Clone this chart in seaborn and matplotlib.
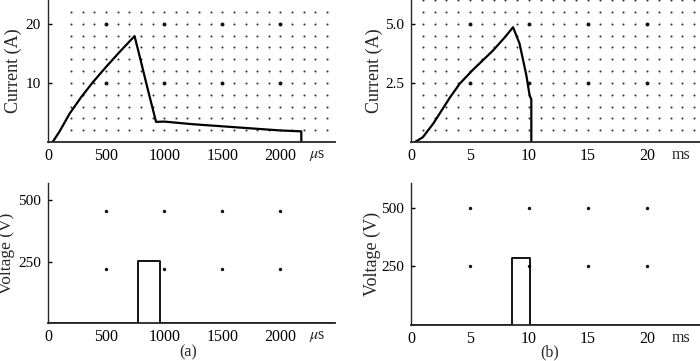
import numpy as np
import pandas as pd
import matplotlib
matplotlib.use("Agg")
import matplotlib.pyplot as plt
import seaborn as sns

# ---- data ----
ia_t = [40, 100, 186, 290, 386, 500, 620, 745, 800, 860, 930, 1000, 1250, 1500, 1750, 2000, 2180, 2180]
ia_v = [0.0, 1.8, 4.8, 7.7, 10.1, 12.7, 15.3, 17.9, 13.6, 8.8, 3.4, 3.45, 3.0, 2.65, 2.3, 1.95, 1.8, 0.0]

va_t = [0, 778, 778, 968, 968, 2470]
va_v = [0, 0, 252, 252, 0, 0]

ib_t = [0.34, 1.0, 1.89, 3.3, 4.14, 5.27, 6.96, 8.0, 8.65, 9.2, 9.77, 10.06, 10.2, 10.2]
ib_v = [0.0, 0.2, 0.78, 1.88, 2.47, 3.06, 3.87, 4.45, 4.85, 4.16, 2.84, 1.96, 1.8, 0.0]

vb_t = [0, 8.56, 8.56, 10.06, 10.06, 24.5]
vb_v = [0, 0, 284, 284, 0, 0]

xticks_a = [0, 500, 1000, 1500, 2000]
xticks_b = [0, 5, 10, 15, 20]
yticks_ia = [10, 20]
yticks_ib = [2.5, 5.0]
yticks_v = [250, 500]

sns.set_style("ticks")
plt.rcParams['font.family'] = ['Liberation Serif', 'DejaVu Serif']
plt.rcParams['mathtext.fontset'] = 'stix'

fig = plt.figure(figsize=(7.0, 3.61), dpi=100)
W, H = 700.0, 361.0

def mk(x0, x1, y0, y1):
    return fig.add_axes([x0 / W, 1 - y1 / H, (x1 - x0) / W, (y1 - y0) / H])

ax_ia = mk(48, 335, 0, 142)
ax_ib = mk(411, 700, 0, 142)
ax_va = mk(48, 335, 183, 323)
ax_vb = mk(411, 700, 183, 325)

def lattice(ax, xs, ys, big_x, big_y):
    X, Y = np.meshgrid(xs, ys)
    X = X.ravel(); Y = Y.ravel()
    big = np.isin(np.round(X, 3), big_x) & np.isin(np.round(Y, 3), big_y)
    ax.scatter(X[~big], Y[~big], s=2.2, color="#333333", linewidths=0, zorder=1)
    ax.scatter(X[big], Y[big], s=8, color="#111111", linewidths=0, zorder=1)

lattice(ax_ia, np.arange(200, 2401, 100), np.arange(2, 23, 2), [500, 1000, 1500, 2000], [10, 20])
lattice(ax_ib, np.arange(1, 25, 1), np.arange(0.5, 6.01, 0.5), [5, 10, 15, 20], [2.5, 5.0])

sns.lineplot(x=ia_t, y=ia_v, ax=ax_ia, color="black", lw=1.6, sort=False, estimator=None)
sns.lineplot(x=va_t, y=va_v, ax=ax_va, color="black", lw=1.3, sort=False, estimator=None)
sns.lineplot(x=ib_t, y=ib_v, ax=ax_ib, color="black", lw=1.6, sort=False, estimator=None)
sns.lineplot(x=vb_t, y=vb_v, ax=ax_vb, color="black", lw=1.3, sort=False, estimator=None)

for ax in (ax_va, ax_vb):
    for xv in ([500, 1000, 1500, 2000] if ax is ax_va else [5, 10, 15, 20]):
        ax.scatter([xv, xv], [500 if ax is ax_vb else 455, 250 if ax is ax_vb else 220],
                   s=6, color="#111111", linewidths=0, zorder=1)

ax_ia.set_xlim(0, 2470); ax_ia.set_ylim(0, 24)
ax_va.set_xlim(0, 2470); ax_va.set_ylim(0, 570)
ax_ib.set_xlim(0, 24.5); ax_ib.set_ylim(0, 6.0)
ax_vb.set_xlim(0, 24.5); ax_vb.set_ylim(0, 605)

ax_ia.set_xticks(xticks_a); ax_va.set_xticks(xticks_a)
ax_ib.set_xticks(xticks_b); ax_vb.set_xticks(xticks_b)
ax_ia.set_yticks(yticks_ia)
ax_ib.set_yticks(yticks_ib); ax_ib.set_yticklabels(["2.5", "5.0"])
ax_va.set_yticks(yticks_v); ax_vb.set_yticks(yticks_v)

for ax in (ax_ia, ax_ib, ax_va, ax_vb):
    sns.despine(ax=ax)
    ax.spines['left'].set_linewidth(1.0)
    ax.spines['bottom'].set_linewidth(1.3)
    ax.tick_params(axis='y', direction='in', length=3, width=1.0, pad=5,
                   labelsize=11, colors="black")
    ax.tick_params(axis='x', direction='in', length=0, pad=4,
                   labelsize=11.5, colors="black")
    ax.set_xlabel("")

ax_ia.set_ylabel("Current (A)", fontsize=13)
ax_ib.set_ylabel("Current (A)", fontsize=13)
ax_va.set_ylabel("Voltage (V)", fontsize=12.5)
ax_vb.set_ylabel("Voltage (V)", fontsize=13)
ax_ia.yaxis.set_label_coords((22 - 48) / 287, 0.5)
ax_va.yaxis.set_label_coords((15 - 48) / 287, 0.5)
ax_ib.yaxis.set_label_coords((383 - 411) / 289, 0.5)
ax_vb.yaxis.set_label_coords((381 - 411) / 289, 0.5)

for ax, xu, lab in ((ax_ia, 2320, r"$\mu$s"), (ax_va, 2320, r"$\mu$s"),
                    (ax_ib, 22.9, "ms"), (ax_vb, 22.9, "ms")):
    ax.annotate(lab, xy=(xu, 0), xycoords=('data', 'axes fraction'),
                xytext=(0, -3.5), textcoords='offset points',
                ha='center', va='top', fontsize=11.5)

fig.text(188 / W, 1 - 352 / H, "(a)", ha='center', va='center', fontsize=11.5)
fig.text(550 / W, 1 - 352 / H, "(b)", ha='center', va='center', fontsize=11.5)

fig.savefig("out.png", dpi=100)
